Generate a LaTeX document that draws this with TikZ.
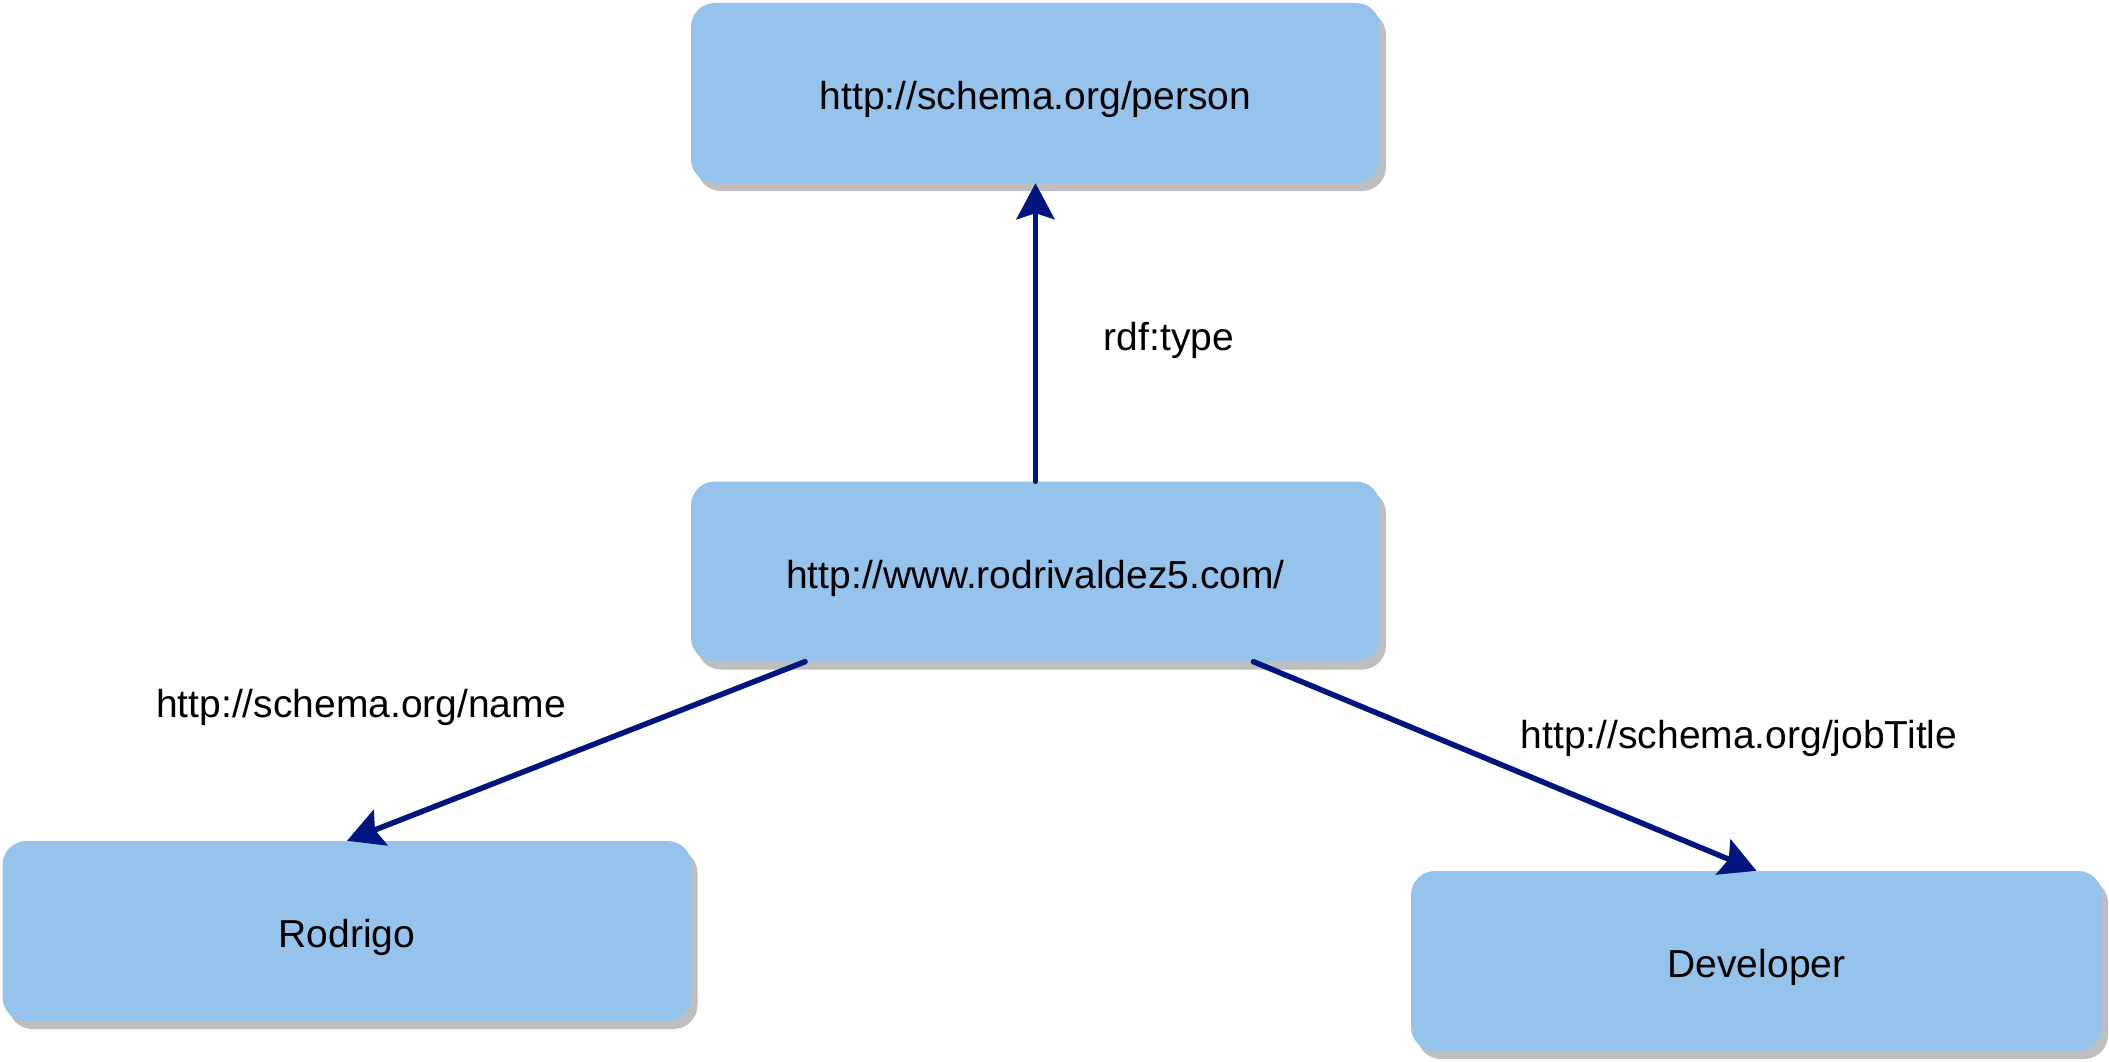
\documentclass[tikz,border=0pt]{standalone}
\usepackage{fontspec}
\setmainfont{Liberation Sans}
\usetikzlibrary{arrows.meta,shadows}
\definecolor{boxfill}{RGB}{149,195,236}
\definecolor{shadowgray}{RGB}{190,190,190}
\definecolor{edgeblue}{RGB}{0,21,128}
\begin{document}
\begin{tikzpicture}[x=1pt,y=-1pt,
  box/.style={rectangle, rounded corners=24pt, fill=boxfill, minimum width=689pt, minimum height=180pt, inner sep=0pt, text=black, text height=33pt, text depth=0pt, font=\fontsize{39}{47}\selectfont, drop shadow={shadow xshift=6pt, shadow yshift=-8pt, fill=shadowgray, opacity=1}},
  lbl/.style={font=\fontsize{39}{47}\selectfont, inner sep=0pt, text=black},
  link/.style={draw=edgeblue, line width=5.5pt, line cap=round, -{Stealth[length=36pt,width=38pt,inset=6pt]}}]
\fill[white] (0,0) rectangle (2109,1062);
\useasboundingbox (0,0) rectangle (2109,1062);

\node[box] (person) at (1035.5,93) {http://schema.org/person};
\node[box] (ctr) at (1035.5,571.5) {http://www.rodrivaldez5.com/};
\node[box] (rod) at (347,931) {Rodrigo};
\node[box, minimum width=691pt] (dev) at (1756.5,961) {Developer};

\draw[link] (ctr.north) -- (person.south);
\draw[link] ([xshift=-230.5pt]ctr.south) -- (rod.north);
\draw[link] ([xshift=218pt]ctr.south) -- (dev.north);

\node[lbl] (ltype) at (1169,340) {rdf:type};
\node[lbl] (lname) at (361,707) {http://schema.org/name};
\node[lbl] (ljob) at (1739,738) {http://schema.org/jobTitle};
\end{tikzpicture}
\end{document}
